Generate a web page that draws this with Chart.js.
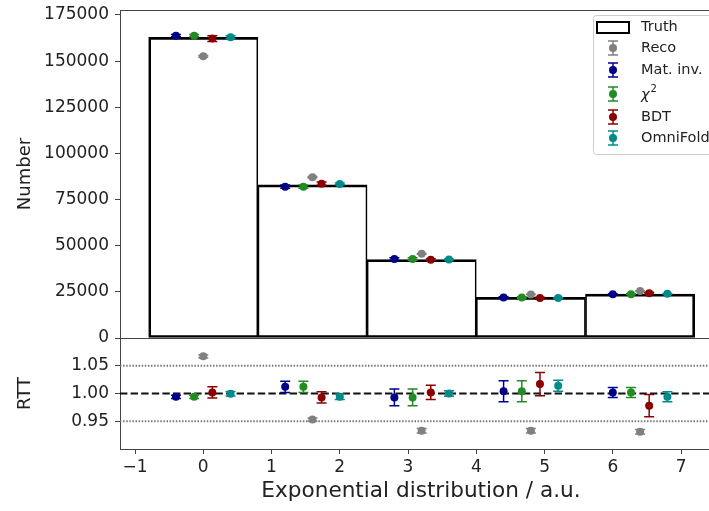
<!DOCTYPE html>
<html lang="en">
<head>
<meta charset="UTF-8">
<title>Exponential distribution - unfolding</title>
<script src="https://cdn.jsdelivr.net/npm/chart.js"></script>
<style>
  body { margin: 0; background: #fff; overflow: hidden; }
  .wrap { position: relative; width: 709px; height: 511px; overflow: hidden; }
  .wrap canvas { position: absolute; left: 0; top: 0; }
</style>
</head>
<body>
<div class="wrap">
  <canvas id="top" width="730" height="511"></canvas>
  <canvas id="rtt" width="730" height="511"></canvas>
</div>
<script>
// ---- data ----
const binCenters = [0, 1.6, 3.2, 4.8, 6.4];
const truth = [162900, 83000, 42500, 22000, 23800];

const methods = ['Reco', 'Mat. inv.', 'χ²', 'BDT', 'OmniFold'];
const offsets = [0, -0.4, -0.133, 0.133, 0.4];
const colors = ['#808080', '#00008b', '#228b22', '#8b0000', '#008b8b'];

// counts per method (top panel)
const reco   = [152600, 87100, 45600, 23600, 25500];
const matInv = [163800, 82000, 42800, 21900, 23750];
const chi2   = [163800, 82000, 42800, 21900, 23750];
const bdt    = [162200, 83600, 42400, 21650, 24300];
const omni   = [163000, 83500, 42500, 21700, 23950];

const recoErr   = [500, 350, 200, 100, 100];
const matInvErr = [600, 850, 650, 420, 210];
const chi2Err   = [600, 850, 650, 420, 210];
const bdtErr    = [1600, 850, 550, 460, 500];
const omniErr   = [700, 450, 250, 220, 210];

// ratio to truth (bottom panel)
const rttReco   = [1.067, 0.953, 0.933, 0.933, 0.931];
const rttMatInv = [0.994, 1.012, 0.993, 1.004, 1.002];
const rttChi2   = [0.994, 1.012, 0.993, 1.004, 1.002];
const rttBdt    = [1.002, 0.993, 1.002, 1.017, 0.978];
const rttOmni   = [0.9995, 0.994, 1.000, 1.014, 0.994];

const rttRecoErr   = [0.003, 0.003, 0.004, 0.004, 0.004];
const rttMatInvErr = [0.003, 0.010, 0.015, 0.019, 0.009];
const rttChi2Err   = [0.003, 0.010, 0.015, 0.019, 0.009];
const rttBdtErr    = [0.010, 0.010, 0.013, 0.021, 0.020];
const rttOmniErr   = [0.004, 0.005, 0.005, 0.010, 0.009];

const topTicks = [0, 25000, 50000, 75000, 100000, 125000, 150000, 175000];
const rttTicks = [0.95, 1.00, 1.05];
const xTicks = [-1, 0, 1, 2, 3, 4, 5, 6, 7];
const rttLine = 1.00;
const rttBand = [0.95, 1.05];

const topVals = [reco, matInv, chi2, bdt, omni];
const topErrs = [recoErr, matInvErr, chi2Err, bdtErr, omniErr];
const rttVals = [rttReco, rttMatInv, rttChi2, rttBdt, rttOmni];
const rttErrs = [rttRecoErr, rttMatInvErr, rttChi2Err, rttBdtErr, rttOmniErr];

// ---- style ----
Chart.defaults.font.family = 'DejaVu Sans';
Chart.defaults.color = '#222';
const spine = '#444';
const tickFont = { size: 17 };

// error bars drawn under each dataset's markers
const errorBarPlugin = {
  id: 'errorBars',
  beforeDatasetDraw(chart, args) {
    const ds = chart.data.datasets[args.index];
    if (!ds.errors) return;
    const ctx = chart.ctx, ys = chart.scales.y;
    ctx.save();
    ctx.strokeStyle = ds.borderColor;
    ctx.lineWidth = 1.5;
    args.meta.data.forEach((pt, i) => {
      const v = ds.data[i].y, e = ds.errors[i];
      const y1 = ys.getPixelForValue(v - e), y2 = ys.getPixelForValue(v + e);
      ctx.beginPath();
      ctx.moveTo(pt.x, y1); ctx.lineTo(pt.x, y2);
      ctx.moveTo(pt.x - 5, y1); ctx.lineTo(pt.x + 5, y1);
      ctx.moveTo(pt.x - 5, y2); ctx.lineTo(pt.x + 5, y2);
      ctx.stroke();
    });
    ctx.restore();
  }
};

// top and right spines
const framePlugin = {
  id: 'frame',
  beforeDatasetsDraw(chart) {
    const {ctx, chartArea: a} = chart;
    ctx.save();
    ctx.strokeStyle = spine;
    ctx.lineWidth = 1;
    ctx.strokeRect(a.left + 0.5, a.top + 0.5, a.right - a.left, a.bottom - a.top);
    ctx.restore();
  }
};

// dashed line at 1 and dotted lines at 0.95 / 1.05
const refLinePlugin = {
  id: 'refLines',
  beforeDatasetsDraw(chart) {
    const {ctx, chartArea: a} = chart, ys = chart.scales.y;
    ctx.save();
    ctx.lineWidth = 2;
    ctx.strokeStyle = '#777';
    ctx.setLineDash([1.5, 1.6]);
    rttBand.forEach(v => {
      const y = ys.getPixelForValue(v);
      ctx.beginPath(); ctx.moveTo(a.left, y); ctx.lineTo(a.right, y); ctx.stroke();
    });
    ctx.strokeStyle = '#111';
    ctx.setLineDash([7.4, 3.2]);
    const y = ys.getPixelForValue(rttLine);
    ctx.beginPath(); ctx.moveTo(a.left, y); ctx.lineTo(a.right, y); ctx.stroke();
    ctx.restore();
  }
};

// matplotlib-like legend box in the upper right
const legendPlugin = {
  id: 'boxLegend',
  afterDraw(chart) {
    const ctx = chart.ctx;
    const x0 = 593, y0 = 15, w = 140, h = 139;
    const rows = [27, 48, 70, 94, 117, 138];
    ctx.save();
    ctx.fillStyle = 'rgba(255,255,255,0.8)';
    ctx.strokeStyle = '#ccc';
    ctx.lineWidth = 1;
    ctx.beginPath();
    ctx.roundRect(x0 + 0.5, y0 + 0.5, w, h, 3);
    ctx.fill(); ctx.stroke();
    ctx.textBaseline = 'middle';
    chart.data.datasets.forEach((ds, i) => {
      const cy = rows[i];
      if (ds.type === 'bar') {
        ctx.strokeStyle = '#000'; ctx.lineWidth = 2;
        ctx.strokeRect(597, cy - 5, 32, 11);
      } else {
        const cx = 613;
        ctx.strokeStyle = ds.borderColor; ctx.lineWidth = 1.5;
        ctx.beginPath();
        ctx.moveTo(cx, cy - 7); ctx.lineTo(cx, cy + 7);
        ctx.moveTo(cx - 5, cy - 7); ctx.lineTo(cx + 5, cy - 7);
        ctx.moveTo(cx - 5, cy + 7); ctx.lineTo(cx + 5, cy + 7);
        ctx.stroke();
        ctx.fillStyle = ds.backgroundColor;
        ctx.beginPath(); ctx.arc(cx, cy, 4, 0, Math.PI * 2); ctx.fill();
      }
      ctx.fillStyle = '#222';
      if (ds.label.endsWith('²')) {
        ctx.font = 'italic 14.5px DejaVu Sans';
        const base = ds.label.slice(0, -1);
        ctx.fillText(base, 641, cy + 1);
        const bw = ctx.measureText(base).width;
        ctx.font = '10px DejaVu Sans';
        ctx.fillText('2', 641 + bw + 1, cy - 5);
      } else {
        ctx.font = '14.5px DejaVu Sans';
        ctx.fillText(ds.label, 641, cy);
      }
    });
    ctx.restore();
  }
};

function fixWidth(w) {
  return s => { s.width = w; s.paddingTop = 0; s.paddingBottom = 0; };
}
function fixHeight(h) {
  return s => { s.height = h; s.paddingLeft = 0; s.paddingRight = 0; };
}

function pointSets(vals, errs) {
  return methods.map((m, k) => ({
    label: m,
    data: binCenters.map((x, i) => ({ x: x + offsets[k], y: vals[k][i] })),
    errors: errs[k],
    backgroundColor: colors[k],
    borderColor: colors[k],
    pointRadius: 4,
    pointBorderWidth: 0,
    order: k
  }));
}

// shared edges of neighbouring bins get 1px from each side
function binBorder(c) {
  const last = binCenters.length - 1;
  return { left: c.dataIndex === 0 ? 2 : 1, right: c.dataIndex === last ? 2 : 1, top: 2, bottom: 2 };
}

// ---- top panel ----
new Chart(document.getElementById('top'), {
  type: 'scatter',
  data: {
    datasets: [
      {
        type: 'bar',
        label: 'Truth',
        data: binCenters.map((x, i) => ({ x: x, y: truth[i] })),
        backgroundColor: 'rgba(255,255,255,0)',
        borderColor: '#000',
        borderWidth: binBorder,
        borderSkipped: false,
        barPercentage: 1,
        categoryPercentage: 1,
        order: 10
      },
      ...pointSets(topVals, topErrs)
    ]
  },
  options: {
    responsive: false,
    animation: false,
    layout: { padding: { top: 10, right: 8, bottom: 173, left: 0 } },
    plugins: { legend: { display: false }, tooltip: { enabled: false } },
    scales: {
      x: {
        type: 'linear', min: -1.22, max: 7.6, offset: false,
        afterBuildTicks: s => { s.ticks = binCenters.map(v => ({ value: v })); },
        afterFit: fixHeight(0),
        ticks: { display: false },
        grid: { display: false },
        border: { color: spine, width: 1 }
      },
      y: {
        min: 0, max: 177700,
        afterBuildTicks: s => { s.ticks = topTicks.map(v => ({ value: v })); },
        afterFit: fixWidth(120),
        ticks: { font: tickFont, padding: 6, callback: v => String(v) },
        grid: { drawOnChartArea: false, tickLength: 5, color: spine },
        border: { color: spine, width: 1 },
        title: { display: true, text: 'Number', font: { size: 18 }, padding: { top: 15, bottom: 0 } }
      }
    }
  },
  plugins: [framePlugin, errorBarPlugin, legendPlugin]
});

// ---- ratio panel ----
new Chart(document.getElementById('rtt'), {
  type: 'scatter',
  data: { datasets: pointSets(rttVals, rttErrs) },
  options: {
    responsive: false,
    animation: false,
    layout: { padding: { top: 338, right: 8, bottom: 0, left: 0 } },
    plugins: { legend: { display: false }, tooltip: { enabled: false } },
    scales: {
      x: {
        type: 'linear', min: -1.22, max: 7.6,
        afterBuildTicks: s => { s.ticks = xTicks.map(v => ({ value: v })); },
        afterFit: fixHeight(62),
        ticks: { font: tickFont, padding: 3, maxRotation: 0,
                 callback: v => v < 0 ? '\u2212' + Math.abs(v) : String(v) },
        grid: { drawOnChartArea: false, tickLength: 5, color: spine },
        border: { color: spine, width: 1 },
        title: { display: true, text: 'Exponential distribution / a.u.', font: { size: 21.6 }, padding: { top: 0, bottom: 7 } }
      },
      y: {
        min: 0.90, max: 1.10,
        afterBuildTicks: s => { s.ticks = rttTicks.map(v => ({ value: v })); },
        afterFit: fixWidth(120),
        ticks: { font: tickFont, padding: 6, callback: v => v.toFixed(2) },
        grid: { drawOnChartArea: false, tickLength: 5, color: spine },
        border: { color: spine, width: 1 },
        title: { display: true, text: 'RTT', font: { size: 18 }, padding: { top: 15, bottom: 0 } }
      }
    }
  },
  plugins: [framePlugin, refLinePlugin, errorBarPlugin]
});
</script>
</body>
</html>
